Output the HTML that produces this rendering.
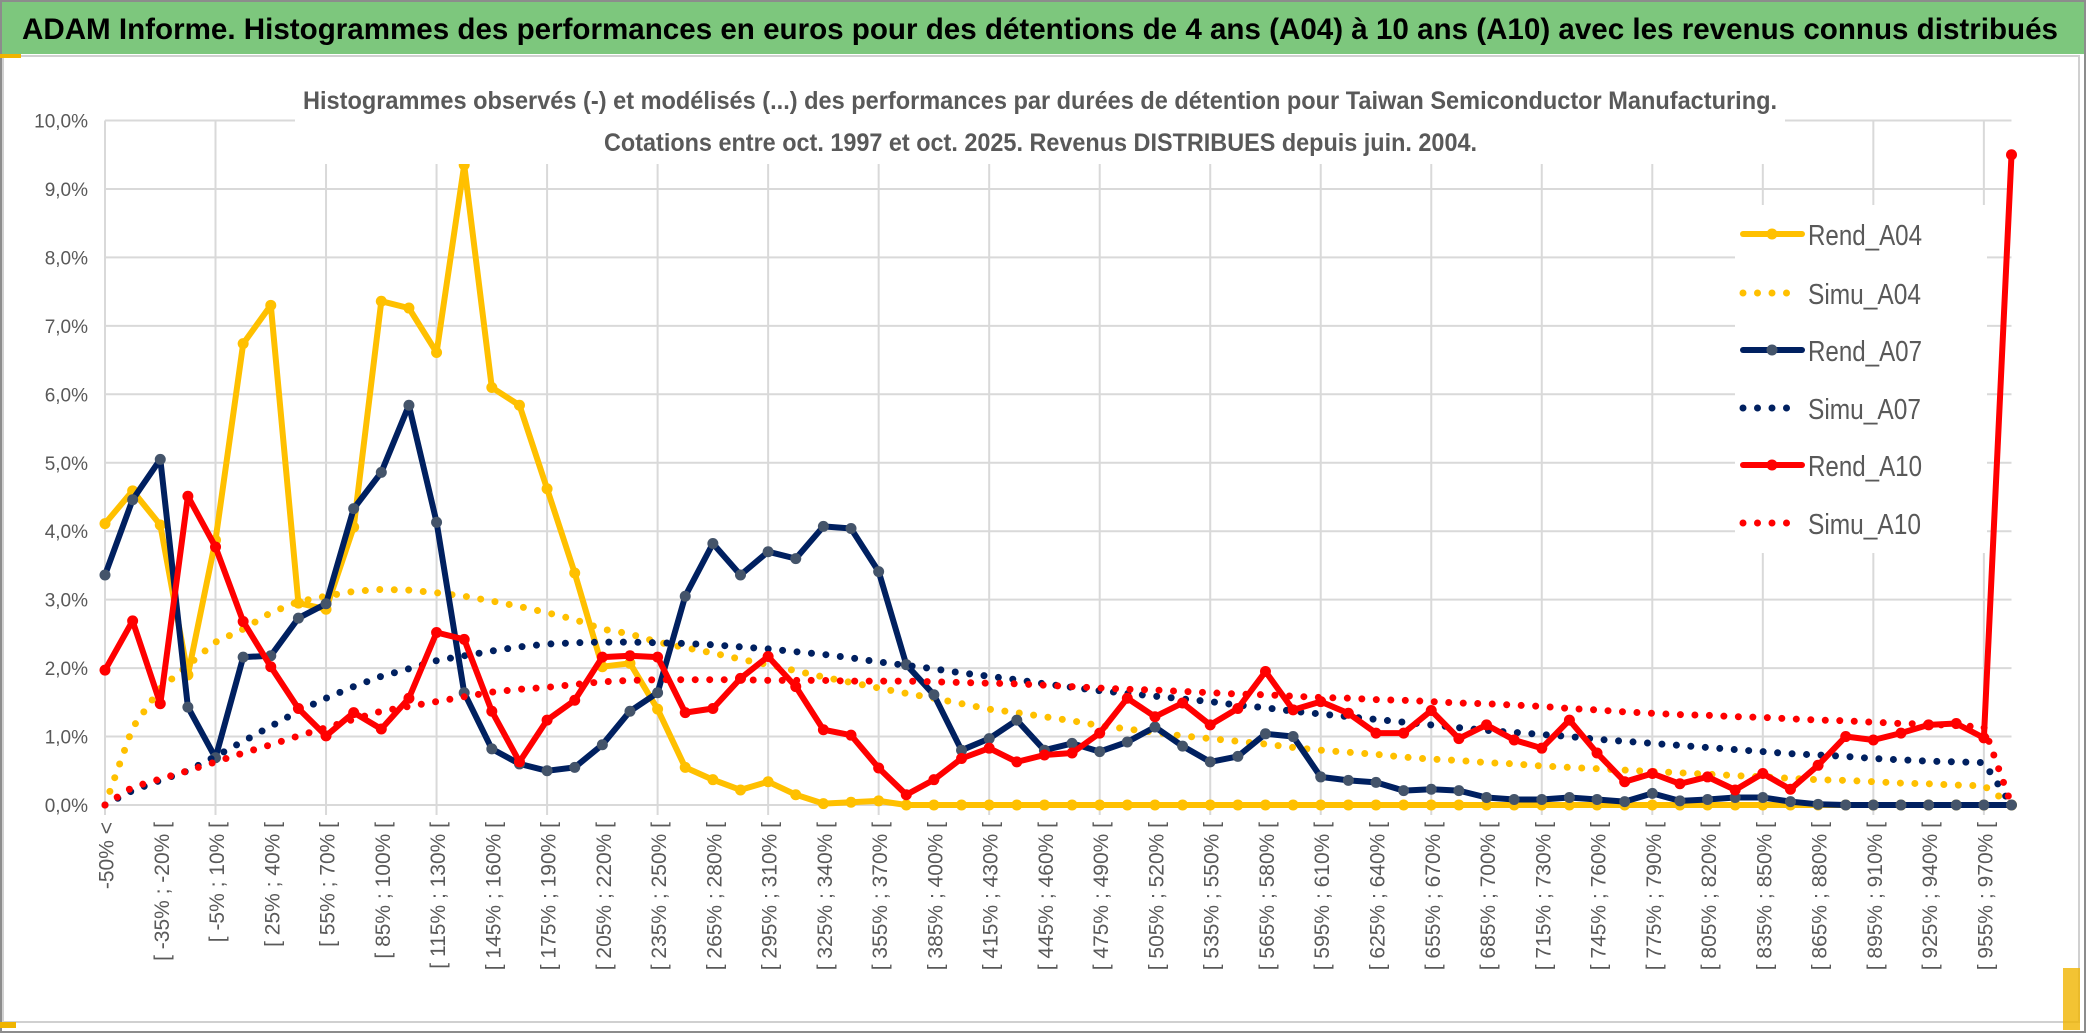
<!DOCTYPE html>
<html><head><meta charset="utf-8"><style>
html,body{margin:0;padding:0;background:#fff;}
svg{display:block;font-family:"Liberation Sans",sans-serif;}
</style></head><body>
<svg id="chart" width="2086" height="1033" viewBox="0 0 2086 1033" xmlns="http://www.w3.org/2000/svg">
<rect x="0" y="0" width="2086" height="1033" fill="#fff"/>
<rect x="1" y="1" width="2084" height="1031" fill="none" stroke="#8c8c8c" stroke-width="2"/>
<rect x="2" y="2" width="2082" height="52" fill="#7dc77d"/>
<text x="22" y="39" font-size="30" font-weight="bold" fill="#000" textLength="2036" lengthAdjust="spacingAndGlyphs">ADAM Informe. Histogrammes des performances en euros pour des détentions de 4 ans (A04) à 10 ans (A10) avec les revenus connus distribués</text>
<rect x="3" y="56" width="2076" height="966" fill="none" stroke="#d0d0d0" stroke-width="2"/>
<rect x="0" y="54" width="21" height="4" fill="#f0b400"/>
<rect x="0" y="1022" width="16" height="6" fill="#f0b400"/>
<rect x="2063" y="968" width="17" height="62" fill="#f0b400" opacity="0.8"/>
<g id="grid"></g>
<g id="axes"></g>
<g id="series"></g>
<rect x="295" y="64" width="1490" height="100" fill="#fff"/>
<text x="303" y="109" font-size="25" font-weight="bold" fill="#595959" textLength="1474" lengthAdjust="spacingAndGlyphs">Histogrammes observés (-) et modélisés (...) des performances par durées de détention pour Taiwan Semiconductor Manufacturing.</text>
<text x="604" y="151" font-size="25" font-weight="bold" fill="#595959" textLength="873" lengthAdjust="spacingAndGlyphs">Cotations entre oct. 1997 et oct. 2025. Revenus DISTRIBUES depuis juin. 2004.</text>
<g id="legend"></g>
</svg>
<script>
const categories = ["-50% <","[ -50% ; -35% [","[ -35% ; -20% [","[ -20% ; -5% [","[ -5% ; 10% [","[ 10% ; 25% [","[ 25% ; 40% [","[ 40% ; 55% [","[ 55% ; 70% [","[ 70% ; 85% [","[ 85% ; 100% [","[ 100% ; 115% [","[ 115% ; 130% [","[ 130% ; 145% [","[ 145% ; 160% [","[ 160% ; 175% [","[ 175% ; 190% [","[ 190% ; 205% [","[ 205% ; 220% [","[ 220% ; 235% [","[ 235% ; 250% [","[ 250% ; 265% [","[ 265% ; 280% [","[ 280% ; 295% [","[ 295% ; 310% [","[ 310% ; 325% [","[ 325% ; 340% [","[ 340% ; 355% [","[ 355% ; 370% [","[ 370% ; 385% [","[ 385% ; 400% [","[ 400% ; 415% [","[ 415% ; 430% [","[ 430% ; 445% [","[ 445% ; 460% [","[ 460% ; 475% [","[ 475% ; 490% [","[ 490% ; 505% [","[ 505% ; 520% [","[ 520% ; 535% [","[ 535% ; 550% [","[ 550% ; 565% [","[ 565% ; 580% [","[ 580% ; 595% [","[ 595% ; 610% [","[ 610% ; 625% [","[ 625% ; 640% [","[ 640% ; 655% [","[ 655% ; 670% [","[ 670% ; 685% [","[ 685% ; 700% [","[ 700% ; 715% [","[ 715% ; 730% [","[ 730% ; 745% [","[ 745% ; 760% [","[ 760% ; 775% [","[ 775% ; 790% [","[ 790% ; 805% [","[ 805% ; 820% [","[ 820% ; 835% [","[ 835% ; 850% [","[ 850% ; 865% [","[ 865% ; 880% [","[ 880% ; 895% [","[ 895% ; 910% [","[ 910% ; 925% [","[ 925% ; 940% [","[ 940% ; 955% [","[ 955% ; 970% [","970% >"];
const rendA04 = [4.11,4.59,4.09,1.9,3.87,6.74,7.30,2.95,2.86,4.06,7.36,7.26,6.61,9.35,6.10,5.84,4.62,3.39,2.02,2.07,1.40,0.55,
0.37,0.22,0.34,0.15,0.02,0.04,0.06,
0,0,0,0,0,0,0,0,0,0,0,0,0,0,0,0,0,0,0,0,0,0,0,0,0,0,0,0,0,0,0,0,0,0,0,0,0,0,0,0,0];
const simuA04 = [0,1.13,1.70,2.04,2.38,2.57,2.81,2.97,3.05,3.12,3.15,3.14,3.10,3.05,2.98,2.90,2.81,2.71,2.57,2.50,2.38,2.30,
2.22,2.13,2.05,1.96,1.87,1.79,1.71,1.63,1.56,1.48,1.40,1.35,1.29,1.23,1.16,
1.11,1.06,1.01,0.97,0.93,0.89,0.84,0.80,0.77,0.74,0.70,0.67,0.65,0.62,0.60,0.57,
0.55,0.53,0.51,0.49,0.47,0.45,0.43,0.41,0.39,0.37,0.36,0.34,0.32,0.31,0.29,0.28,0];
const rendA07 = [3.36,4.46,5.05,1.43,0.69,2.16,2.18,2.73,2.94,4.33,4.86,5.84,4.13,1.64,0.82,0.60,0.50,0.55,0.88,1.37,1.64,3.05,
3.82,3.36,3.70,3.60,4.07,4.04,3.41,2.05,1.61,0.80,0.97,1.24,0.80,0.90,0.78,
0.92,1.14,0.86,0.63,0.71,1.04,1.00,0.41,0.36,0.33,0.21,0.23,0.21,0.11,0.08,0.08,
0.11,0.08,0.05,0.17,0.06,0.08,0.11,0.11,0.05,0.01,0,0,0,0,0,0,0];
const simuA07 = [0,0.21,0.36,0.50,0.71,0.93,1.15,1.37,1.56,1.73,1.88,1.99,2.11,2.18,2.25,2.31,2.35,2.37,2.38,2.38,2.37,2.36,
2.34,2.31,2.28,2.24,2.20,2.15,2.09,2.04,1.99,1.93,1.88,1.83,1.77,1.72,1.67,
1.63,1.59,1.55,1.51,1.46,1.42,1.37,1.33,1.29,1.25,1.21,1.17,1.13,1.09,1.06,1.03,
1.00,0.96,0.93,0.90,0.87,0.84,0.81,0.78,0.75,0.73,0.71,0.68,0.66,0.64,0.63,0.62,0];
const rendA10 = [1.97,2.69,1.48,4.51,3.77,2.68,2.02,1.41,1.01,1.35,1.11,1.56,2.52,2.42,1.37,0.63,1.24,1.53,2.16,2.18,2.16,1.35,
1.41,1.85,2.17,1.73,1.10,1.02,0.54,0.15,0.37,0.68,0.83,0.63,0.73,0.76,1.05,
1.56,1.29,1.49,1.17,1.41,1.95,1.39,1.51,1.34,1.05,1.05,1.38,0.97,1.17,0.95,0.83,
1.24,0.76,0.34,0.46,0.31,0.41,0.22,0.46,0.23,0.58,1.00,0.95,1.05,1.17,1.19,0.98,9.5];
const simuA10 = [0,0.26,0.38,0.50,0.63,0.76,0.88,1.01,1.13,1.25,1.37,1.44,1.51,1.58,1.65,1.69,1.72,1.76,1.80,1.82,1.83,1.83,
1.83,1.83,1.82,1.82,1.82,1.81,1.81,1.81,1.80,1.79,1.78,1.77,1.75,1.73,1.71,
1.69,1.68,1.66,1.64,1.62,1.61,1.59,1.57,1.56,1.54,1.53,1.51,1.49,1.48,1.46,1.44,
1.41,1.39,1.36,1.34,1.32,1.31,1.29,1.28,1.26,1.24,1.23,1.21,1.19,1.18,1.16,1.14,0];
const yTickValues = [0,1,2,3,4,5,6,7,8,9,10];
const yTickLabels = ["0,0%","1,0%","2,0%","3,0%","4,0%","5,0%","6,0%","7,0%","8,0%","9,0%","10,0%"];
const seriesNames = ["Rend_A04","Simu_A04","Rend_A07","Simu_A07","Rend_A10","Simu_A10"];

const NS = "http://www.w3.org/2000/svg";
const X0 = 105, X1 = 2011.5, Y0 = 805, Y10 = 120.5;
function xPos(i){ return X0 + (X1 - X0) * i / (categories.length - 1); }
function yPos(v){ return Y0 - (Y0 - Y10) * v / 10; }
function mk(tag, attrs, parent){ const e = document.createElementNS(NS, tag); for (const k in attrs) e.setAttribute(k, attrs[k]); parent.appendChild(e); return e; }

const grid = document.getElementById('grid');
const axes = document.getElementById('axes');
yTickValues.forEach((v, k) => {
  const l = mk('line', {x1: X0, x2: X1, y1: yPos(v), y2: yPos(v), stroke: '#d9d9d9', 'stroke-width': 2}, grid);
  
  
  const t = mk('text', {x: 88, y: yPos(v) + 7, 'text-anchor': 'end', 'font-size': 19, fill: '#595959'}, axes);
  t.textContent = yTickLabels[k];
  
  
});
for (let i = 0; i < categories.length; i += 4) {
  const l = mk('line', {x1: xPos(i), x2: xPos(i), y1: Y10, y2: Y0 + 10, stroke: '#d9d9d9', 'stroke-width': 2}, grid);
  
  
}
categories.forEach((c, i) => {
  if (i % 2 !== 0) return;
  const x = xPos(i) + 2, y = 822;
  const t = mk('text', {x: x, y: y, transform: 'rotate(-90 ' + x + ' ' + y + ')', 'text-anchor': 'end', 'dominant-baseline': 'central', 'font-size': 21, fill: '#595959'}, axes);
  t.textContent = c;
  
  
});

const seriesData = [rendA04, simuA04, rendA07, simuA07, rendA10, simuA10];
const colors = ['#ffc000', '#ffc000', '#002060', '#002060', '#ff0000', '#ff0000'];
const markerFill = ['#ffc000', null, '#44546a', null, '#ff0000', null];
const sg = document.getElementById('series');
seriesData.forEach((arr, s) => {
  const g = mk('g', {}, sg);
  
  
  const pts = arr.map((v, i) => xPos(i).toFixed(1) + ',' + yPos(v).toFixed(1)).join(' ');
  const dotted = markerFill[s] === null;
  const pl = mk('polyline', {points: pts, fill: 'none', stroke: colors[s], 'stroke-width': dotted ? 7 : 6, 'stroke-linejoin': 'round', 'stroke-linecap': 'round'}, g);
  if (dotted) pl.setAttribute('stroke-dasharray', '0 14.5');
  
  
  if (!dotted) {
    arr.forEach((v, i) => {
      const c = mk('circle', {cx: xPos(i), cy: yPos(v), r: 5.5, fill: markerFill[s]}, g);
      
      
    });
  }
});

const lg = document.getElementById('legend');
mk('rect', {x: 1735, y: 205, width: 252, height: 348, fill: '#fff'}, lg);
const legendY = [234, 293, 350, 408, 465, 523];
const legendW = [114, 113, 114, 113, 114, 113];
seriesNames.forEach((n, s) => {
  const y = legendY[s];
  const g = mk('g', {}, lg);
  
  
  const dotted = markerFill[s] === null;
  const l = mk('line', {x1: 1743, x2: dotted ? 1800 : 1802, y1: y, y2: y, stroke: colors[s], 'stroke-width': dotted ? 7 : 6, 'stroke-linecap': 'round'}, g);
  if (dotted) l.setAttribute('stroke-dasharray', '0 14.5');
  if (!dotted) mk('circle', {cx: 1772, cy: y, r: 5.5, fill: markerFill[s]}, g);
  const t = mk('text', {x: 1808, y: y + 11, 'font-size': 29, fill: '#595959', textLength: legendW[s], lengthAdjust: 'spacingAndGlyphs'}, g);
  t.textContent = n;
});
</script>
</body></html>
